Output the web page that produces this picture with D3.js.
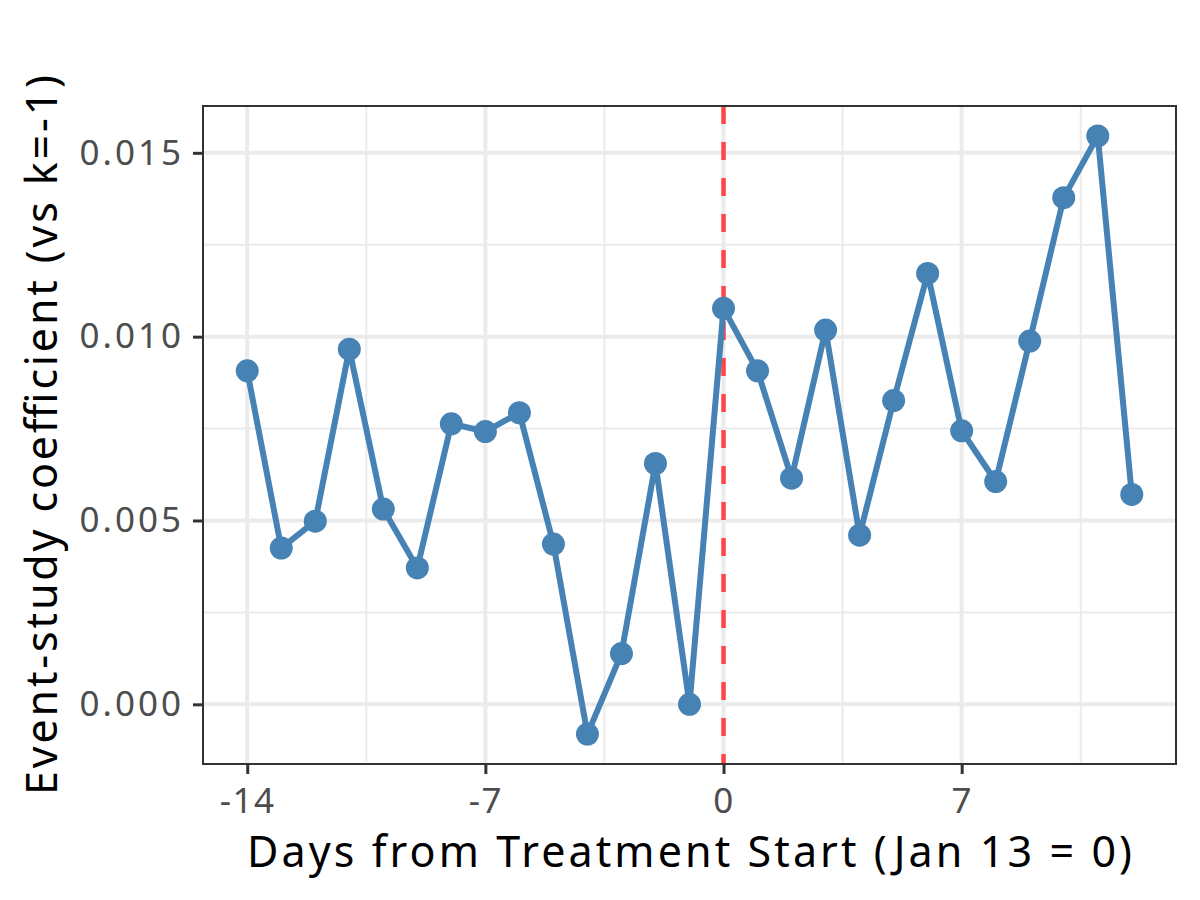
<!DOCTYPE html>
<html>
<head>
<meta charset="utf-8">
<script src="https://cdn.jsdelivr.net/npm/d3@7"></script>
<style>
  body { margin: 0; background: #fff; }
  text { font-family: "Noto Sans", sans-serif; }
</style>
</head>
<body>
<div class="chart"></div>
<script>
// event-study data
var days = [-14, -13, -12, -11, -10, -9, -8, -7, -6, -5, -4, -3, -2, -1,
            0, 1, 2, 3, 4, 5, 6, 7, 8, 9, 10, 11, 12];
var coefs = [0.00907, 0.00425, 0.00498, 0.00966, 0.00531, 0.00371, 0.00763,
             0.00742, 0.00793, 0.00436, -0.00081, 0.00138, 0.00655, 0.0,
             0.01077, 0.00907, 0.00615, 0.01018, 0.0046, 0.00826, 0.01172,
             0.00744, 0.00606, 0.00988, 0.01378, 0.01546, 0.00571];
var xTicks = [-14, -7, 0, 7];
var xMinor = [-10.5, -3.5, 3.5, 10.5];
var yTicks = [0, 0.005, 0.01, 0.015];
var yMinor = [0.0025, 0.0075, 0.0125];

var svgWidth = 1200;
var svgHeight = 900;

var margin = {
    top: 106,
    right: 24,
    bottom: 136,
    left: 203
};

var width = svgWidth - margin.left - margin.right;
var height = svgHeight - margin.top - margin.bottom;

var svg = d3.select(".chart")
    .append("svg")
    .attr("width", svgWidth)
    .attr("height", svgHeight);

var chartGroup = svg.append("g")
    .attr("transform", `translate(${margin.left}, ${margin.top})`);

// ggplot style 5% expansion
var xExt = d3.extent(days);
var xPad = (xExt[1] - xExt[0]) * 0.05;
var yExt = d3.extent(coefs);
var yPad = (yExt[1] - yExt[0]) * 0.05;

var xScale = d3.scaleLinear()
    .domain([xExt[0] - xPad, xExt[1] + xPad])
    .range([0, width]);
var yScale = d3.scaleLinear()
    .domain([yExt[0] - yPad, yExt[1] + yPad])
    .range([height, 0]);

// grid
chartGroup.append("g").selectAll("line")
    .data(xMinor).enter().append("line")
    .attr("x1", d => xScale(d)).attr("x2", d => xScale(d))
    .attr("y1", 0).attr("y2", height)
    .attr("stroke", "#ebebeb").attr("stroke-width", 2);
chartGroup.append("g").selectAll("line")
    .data(yMinor).enter().append("line")
    .attr("y1", d => yScale(d)).attr("y2", d => yScale(d))
    .attr("x1", 0).attr("x2", width)
    .attr("stroke", "#ebebeb").attr("stroke-width", 2);
chartGroup.append("g").selectAll("line")
    .data(xTicks).enter().append("line")
    .attr("x1", d => xScale(d)).attr("x2", d => xScale(d))
    .attr("y1", 0).attr("y2", height)
    .attr("stroke", "#ebebeb").attr("stroke-width", 4);
chartGroup.append("g").selectAll("line")
    .data(yTicks).enter().append("line")
    .attr("y1", d => yScale(d)).attr("y2", d => yScale(d))
    .attr("x1", 0).attr("x2", width)
    .attr("stroke", "#ebebeb").attr("stroke-width", 4);

// treatment start
chartGroup.append("line")
    .attr("x1", xScale(0)).attr("x2", xScale(0))
    .attr("y1", 0).attr("y2", height)
    .attr("stroke", "#ff4646")
    .attr("stroke-width", 4.5)
    .attr("stroke-dasharray", "18,18");

// line + points
var line = d3.line()
    .x((d, i) => xScale(days[i]))
    .y(d => yScale(d));

chartGroup.append("path")
    .datum(coefs)
    .attr("d", line)
    .attr("fill", "none")
    .attr("stroke", "steelblue")
    .attr("stroke-width", 6)
    .attr("stroke-linejoin", "round");

chartGroup.selectAll("circle")
    .data(coefs)
    .enter()
    .append("circle")
    .attr("cx", (d, i) => xScale(days[i]))
    .attr("cy", d => yScale(d))
    .attr("r", 11.5)
    .attr("fill", "steelblue");

// panel border
chartGroup.append("rect")
    .attr("width", width).attr("height", height)
    .attr("fill", "none")
    .attr("stroke", "#333333")
    .attr("stroke-width", 2);

// axes
var bottomAxis = d3.axisBottom(xScale).tickValues(xTicks).tickSize(10).tickPadding(14)
    .tickFormat(d => String(d));
var leftAxis = d3.axisLeft(yScale).tickValues(yTicks).tickSize(10).tickPadding(9)
    .tickFormat(d => d.toFixed(3));

var xAxisG = chartGroup.append("g")
    .attr("transform", `translate(0, ${height})`)
    .call(bottomAxis);
var yAxisG = chartGroup.append("g")
    .call(leftAxis);

[xAxisG, yAxisG].forEach(function(g) {
    g.select(".domain").remove();
    g.selectAll(".tick line").attr("stroke", "#333333").attr("stroke-width", 3);
    g.selectAll(".tick text")
        .attr("fill", "#4d4d4d")
        .style("font-size", "35px")
        .style("letter-spacing", "1.5px")
        .style("font-family", "'Noto Sans', sans-serif");
});
yAxisG.selectAll(".tick text").style("letter-spacing", "3px");

// axis titles
chartGroup.append("text")
    .attr("transform", "rotate(-90)")
    .attr("y", 57 - margin.left)
    .attr("x", 0 - (height / 2))
    .attr("text-anchor", "middle")
    .attr("textLength", 720)
    .attr("lengthAdjust", "spacing")
    .style("font-size", "43px")
    .attr("fill", "#000")
    .text("Event-study coefficient (vs k=-1)");

chartGroup.append("text")
    .attr("transform", `translate(${width / 2}, ${height + 103})`)
    .attr("text-anchor", "middle")
    .attr("textLength", 885)
    .attr("lengthAdjust", "spacing")
    .style("font-size", "43px")
    .attr("fill", "#000")
    .text("Days from Treatment Start (Jan 13 = 0)");
</script>
</body>
</html>
